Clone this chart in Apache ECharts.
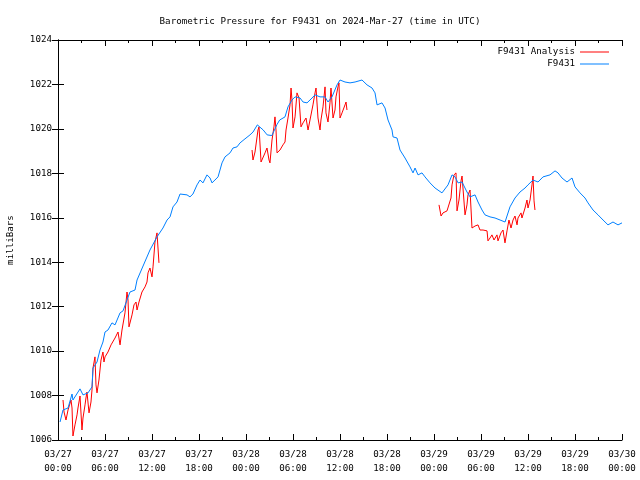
<!DOCTYPE html>
<html>
<head>
<meta charset="utf-8">
<script src="https://cdn.jsdelivr.net/npm/echarts@6/dist/echarts.min.js"></script>
<style>html,body{margin:0;padding:0;background:#fff}#c{width:640px;height:480px}</style>
</head>
<body>
<div id="c"></div>
<script>
// Hours since 2024-03-27 00:00 UTC
const stationHours = [0.26,0.64,0.89,1.28,1.79,1.91,2.81,3.19,3.83,4.34,4.47,4.98,5.36,5.74,6.00,6.38,6.89,7.28,7.92,8.30,8.81,9.19,9.83,10.09,11.74,12.64,13.40,13.92,14.30,14.68,15.19,15.58,16.47,16.85,17.23,17.75,18.13,18.51,19.02,19.41,19.66,20.04,20.43,20.94,21.32,21.96,22.34,22.85,23.24,23.87,24.51,24.90,25.45,26.20,26.70,27.30,27.96,28.30,28.98,29.36,29.87,30.26,30.90,31.28,31.79,32.43,32.81,33.45,34.09,34.47,34.98,35.62,36.00,36.64,37.28,37.92,38.81,39.45,40.09,40.47,40.73,41.36,41.75,42.13,42.64,42.77,43.28,43.66,44.30,44.94,45.32,45.58,45.96,46.47,46.85,47.49,48.13,49.02,49.79,50.30,50.68,51.07,51.58,52.21,52.60,53.24,53.62,54.13,54.51,55.15,55.79,56.43,57.07,57.70,58.34,58.98,59.62,60.00,60.64,61.28,61.92,62.81,63.45,63.83,64.34,64.98,65.62,66.00,66.64,67.28,67.66,68.30,68.94,69.58,70.21,70.85,71.49,72.00];
const stationMbar = [1006.81,1007.35,1007.44,1007.44,1008.07,1007.80,1008.30,1008.03,1008.12,1008.39,1009.24,1009.51,1010.05,1010.41,1010.86,1010.95,1011.27,1011.18,1011.72,1011.81,1012.30,1012.66,1012.75,1013.20,1014.55,1015.14,1015.54,1015.90,1016.04,1016.49,1016.71,1017.07,1017.03,1016.94,1017.07,1017.48,1017.70,1017.57,1017.93,1017.79,1017.57,1017.70,1017.84,1018.47,1018.74,1018.92,1019.14,1019.19,1019.37,1019.55,1019.73,1019.86,1020.18,1019.95,1019.73,1019.70,1020.20,1020.40,1020.54,1020.99,1021.30,1021.44,1021.39,1021.21,1021.17,1021.39,1021.53,1021.44,1021.44,1021.21,1021.44,1021.98,1022.20,1022.11,1022.07,1022.11,1022.20,1021.98,1021.84,1021.62,1021.08,1021.17,1020.94,1020.40,1019.95,1019.64,1019.59,1019.05,1018.69,1018.29,1018.02,1018.24,1017.93,1018.02,1017.84,1017.57,1017.34,1017.12,1017.48,1017.93,1017.84,1017.57,1017.61,1017.16,1016.94,1017.03,1016.71,1016.35,1016.13,1016.04,1015.99,1015.90,1015.81,1016.49,1016.89,1017.16,1017.34,1017.48,1017.70,1017.61,1017.84,1017.93,1018.11,1018.02,1017.79,1017.61,1017.79,1017.39,1017.12,1016.89,1016.67,1016.35,1016.13,1015.90,1015.68,1015.81,1015.68,1015.77];

// Analysis: null marks a gap between runs
const analysisHours = [0.64,0.77,1.02,1.28,1.66,1.79,1.91,2.17,2.43,2.55,2.81,2.94,3.06,3.19,3.45,3.57,3.70,3.96,4.21,4.34,4.47,4.72,4.85,4.98,5.23,5.49,5.74,5.87,6.00,6.38,6.77,7.02,7.28,7.66,7.92,8.17,8.55,8.81,8.94,9.06,9.45,9.70,9.96,10.09,10.34,10.72,11.11,11.36,11.49,11.74,12.00,12.13,12.38,12.64,12.89,
  null,
  24.77,24.89,25.15,25.53,25.66,25.92,26.43,26.68,26.94,27.06,27.32,27.57,27.70,27.83,27.96,28.34,28.72,28.98,29.11,29.36,29.62,29.75,29.87,30.00,30.26,30.51,30.77,31.02,31.28,31.66,31.92,32.17,32.55,32.81,32.94,33.19,33.45,33.57,33.83,34.09,34.21,34.47,34.72,34.85,35.11,35.36,35.49,35.74,35.87,36.00,36.26,36.64,36.77,36.89,
  null,
  48.64,48.90,49.15,49.66,49.91,50.17,50.30,50.55,50.81,50.94,51.19,51.45,51.58,51.70,51.96,52.21,52.34,52.60,52.72,52.85,53.24,53.62,53.87,54.26,54.77,54.89,55.15,55.40,55.66,56.04,56.17,56.55,56.81,57.06,57.32,57.57,57.83,58.09,58.34,58.60,58.72,59.11,59.23,59.62,59.87,60.00,60.26,60.51,60.64,60.77,60.89];
const analysisMbar = [1007.80,1007.26,1006.90,1007.35,1007.80,1007.44,1006.18,1006.68,1007.13,1007.44,1007.98,1008.03,1006.45,1006.99,1007.58,1007.89,1008.16,1007.22,1007.71,1008.25,1009.24,1009.74,1008.48,1008.12,1008.70,1009.60,1009.96,1009.51,1009.74,1009.96,1010.28,1010.28,1010.59,1010.86,1010.28,1010.95,1011.72,1012.66,1012.30,1011.09,1011.63,1012.08,1012.21,1011.85,1012.21,1012.66,1012.89,1013.11,1013.52,1013.74,1013.34,1013.79,1014.91,1015.32,1013.97,
  null,
  1019.05,1018.60,1018.96,1019.95,1020.09,1018.51,1018.92,1019.14,1018.60,1018.47,1019.50,1020.09,1020.54,1019.95,1018.92,1019.05,1019.28,1019.41,1019.95,1020.49,1021.08,1021.84,1021.30,1020.04,1020.54,1021.62,1021.39,1020.09,1020.27,1020.49,1019.95,1020.40,1021.08,1021.62,1021.84,1020.49,1019.95,1020.40,1020.99,1021.89,1020.72,1020.31,1021.17,1021.84,1020.49,1020.85,1021.44,1021.89,1022.07,1020.49,1020.72,1021.08,1021.21,1020.85,
  null,
  1016.58,1016.08,1016.22,1016.31,1016.31,1016.89,1017.48,1017.93,1018.02,1016.31,1016.80,1017.66,1017.88,1017.34,1016.13,1016.58,1017.03,1017.25,1017.34,1015.54,1015.63,1015.68,1015.45,1015.45,1015.41,1014.96,1015.09,1015.23,1015.00,1015.23,1014.96,1015.32,1015.45,1014.87,1015.41,1015.90,1015.54,1015.90,1016.08,1015.68,1015.99,1016.22,1015.99,1016.44,1016.80,1016.44,1016.80,1017.48,1017.88,1016.76,1016.35];

const xMin = 0, xMax = 72, xStep = 6;
const yMin = 1006, yMax = 1024, yStep = 2;
const titleText = 'Barometric Pressure for F9431 on 2024-Mar-27 (time in UTC)';
const yName = 'milliBars';
const seriesNames = ['F9431 Analysis', 'F9431'];

const FONT = 'DejaVu Sans Mono';
function pad(n){return (n<10?'0':'')+n;}
function xLabel(v){
  const day = 27 + Math.floor(v/24);
  const hr = v % 24;
  let mon = 3, d = day;
  if (d > 31) { mon = 4; d -= 31; }
  return pad(mon) + '/' + pad(d) + '\n' + pad(hr) + ':00';
}
function yLabel(v){ return String(v); }
function zip(xs, ys){ return xs.map((x,i)=> x===null ? [NaN, NaN] : [x, ys[i]]); }

const axisLineStyle = {lineStyle:{color:'#000', width:1}};
const tickStyle = {inside:true, length:6, lineStyle:{color:'#000', width:1}};
const minorStyle = {show:true, splitNumber:2, length:3, lineStyle:{color:'#000', width:1}};

const chart = echarts.init(document.getElementById('c'), null, {renderer:'canvas'});
chart.setOption({
  animation:false,
  backgroundColor:'#fff',
  title:{text:titleText, left:'center', top:12, textStyle:{fontFamily:FONT, fontSize:9.2, fontWeight:'normal', color:'#000'}},
  legend:{
    orient:'vertical', right:26, top:41, align:'right', itemGap:0,
    itemWidth:29, itemHeight:1, icon:'rect',
    textStyle:{fontFamily:FONT, fontSize:9.2, color:'#000', lineHeight:12},
    data: seriesNames
  },
  grid:{left:58, right:18, top:40, bottom:40, containLabel:false, outerBoundsMode:'none'},
  xAxis:[
    {type:'value', min:xMin, max:xMax, interval:xStep, position:'bottom',
     axisLine:axisLineStyle, axisTick:tickStyle, minorTick:minorStyle, splitLine:{show:false},
     axisLabel:{formatter:xLabel, fontFamily:FONT, fontSize:9.2, color:'#000', margin:8, lineHeight:14, showMinLabel:true, showMaxLabel:true}},
    {type:'value', min:xMin, max:xMax, interval:xStep, position:'top',
     axisLine:axisLineStyle, axisTick:tickStyle, minorTick:minorStyle, splitLine:{show:false},
     axisLabel:{show:false}}
  ],
  yAxis:[
    {type:'value', min:yMin, max:yMax, interval:yStep, position:'left',
     name:yName, nameLocation:'middle', nameGap:43, nameRotate:90,
     nameTextStyle:{fontFamily:FONT, fontSize:9.2, color:'#000'},
     axisLine:{show:true, lineStyle:{color:'#000', width:1}}, axisTick:tickStyle, splitLine:{show:false},
     axisLabel:{formatter:yLabel, fontFamily:FONT, fontSize:9.2, color:'#000', margin:6}},
    {type:'value', min:yMin, max:yMax, interval:yStep, position:'right',
     axisLine:{show:true, lineStyle:{color:'#000', width:1}}, axisTick:tickStyle, splitLine:{show:false},
     axisLabel:{show:false}}
  ],
  series:[
    {name:seriesNames[0], type:'line', xAxisIndex:0, yAxisIndex:0, showSymbol:false, symbol:'none',
     connectNulls:false, color:'#ff0000', lineStyle:{color:'#ff0000', width:1},
     data: zip(analysisHours, analysisMbar)},
    {name:seriesNames[1], type:'line', xAxisIndex:0, yAxisIndex:0, showSymbol:false, symbol:'none',
     color:'#0080ff', lineStyle:{color:'#0080ff', width:1},
     data: zip(stationHours, stationMbar)}
  ]
});
</script>
</body>
</html>
